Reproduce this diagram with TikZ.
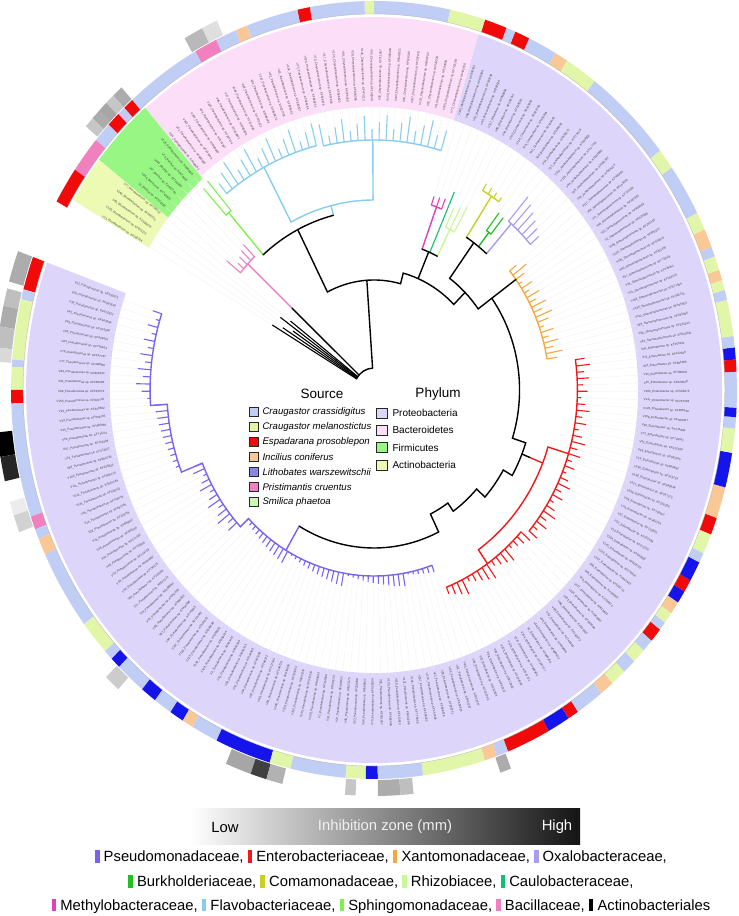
\documentclass[tikz,border=0pt]{standalone}
\usepackage{fontspec}
\setmainfont{Liberation Sans}
\usetikzlibrary{positioning}

% family colours
\definecolor{pseud}{RGB}{123,97,240}
\definecolor{entero}{RGB}{240,24,24}
\definecolor{xanto}{RGB}{245,168,64}
\definecolor{oxalo}{RGB}{168,156,240}
\definecolor{burk}{RGB}{32,192,32}
\definecolor{comam}{RGB}{200,208,40}
\definecolor{rhizo}{RGB}{200,248,152}
\definecolor{caulo}{RGB}{16,192,112}
\definecolor{methy}{RGB}{224,64,192}
\definecolor{flavo}{RGB}{136,204,240}
\definecolor{sphin}{RGB}{128,240,80}
\definecolor{bacil}{RGB}{240,128,192}
% source colours
\definecolor{ccra}{RGB}{192,206,246}
\definecolor{cmel}{RGB}{226,246,170}
\definecolor{espa}{RGB}{240,10,10}
\definecolor{inci}{RGB}{250,200,150}
\definecolor{lith}{RGB}{20,20,235}
\definecolor{lithleg}{RGB}{136,136,232}
\definecolor{pris}{RGB}{240,128,190}
\definecolor{smil}{RGB}{205,246,185}
% phylum colours
\definecolor{proteo}{RGB}{222,214,250}
\definecolor{bacte}{RGB}{252,222,248}
\definecolor{firmi}{RGB}{152,246,132}
\definecolor{actino}{RGB}{236,250,180}

\tikzset{
  branch/.style={line width=1.4pt, line cap=round},
  leaf/.style={line width=1.1pt},
  guide/.style={draw=gray!14, line width=0.25pt},
  tiplabel/.style={font=\fontsize{3}{3}\selectfont, text=black!75, inner sep=0pt},
  srcbox/.style={draw=black!85, line width=0.7pt, minimum size=9pt, inner sep=0pt},
  phybox/.style={draw=black!85, line width=0.7pt, minimum width=11pt, minimum height=10pt, inner sep=0pt},
  srctext/.style={font=\itshape\fontsize{9.6}{10}\selectfont, inner sep=0pt},
  phytext/.style={font=\fontsize{10}{11}\selectfont, inner sep=0pt},
  heading/.style={font=\fontsize{13.5}{14}\selectfont, inner sep=0pt},
  famline/.style={font=\fontsize{14.8}{16}\selectfont, inner sep=0pt},
  bartext/.style={font=\fontsize{14.8}{16}\selectfont, inner sep=0pt},
}

% annular sector: start, end, inner r, outer r, colour
\newcommand{\sect}[5]{\fill[#5] (#1:#3pt) arc[start angle=#1, end angle=#2, radius=#3pt]
  -- (#2:#4pt) arc[start angle=#2, end angle=#1, radius=#4pt] -- cycle;}
% tip label: angle, name, text
\newcommand{\tiplab}[3]{%
  \pgfmathsetmacro\rot{atan2(sin(#1),0.933*cos(#1))}%
  \pgfmathtruncatemacro\flip{cos(#1)<0 ? 1 : 0}%
  \ifnum\flip=1
    \node[tiplabel,anchor=east,rotate=\rot+180] (#2) at (#1:289pt) {#3};%
  \else
    \node[tiplabel,anchor=west,rotate=\rot] (#2) at (#1:289pt) {#3};%
  \fi}
% clade: start, end, leaves, colour, comb radius, genus, seed, base, spread
\newcommand{\clade}[9]{%
  \draw[branch,#4] (#1:#5pt) arc[start angle=#1, end angle=#2, radius=#5pt];
  \foreach \i in {1,...,#3}{%
    \pgfmathsetmacro\ang{#1+(\i-1)*(#2-#1)/max(#3-1,1)}%
    \pgfmathsetlengthmacro\tip{#5+#8+mod(\i*#7,#9)}%
    \draw[leaf,#4] (\ang:#5pt) -- (\ang:\tip);
    \draw[guide] (\ang:\tip) -- (\ang:287pt);
    \pgfmathtruncatemacro\ida{mod(\i*#7+#3,170)+1}%
    \pgfmathtruncatemacro\idb{mod(\i*331+#7*17,900)+100}%
    \pgfmathtruncatemacro\idc{mod(\i*173+#7*29,900)+100}%
    \tiplab{\ang}{tip#7-\i}{V\ida\_#6 sp. KF\idb\idc}
  }}
\newcommand{\chip}[1]{\textcolor{#1}{\rule[-1pt]{4.5pt}{12.5pt}}}

\begin{document}
\begin{tikzpicture}[x=1pt,y=1pt]
\useasboundingbox (0,0) rectangle (739,916);

\begin{scope}[shift={(374,526)}, xscale=0.933]
  % phylum background
  \sect{160}{432.5}{283}{373}{proteo}
  \sect{72.5}{131}{283}{373}{bacte}
  \sect{131}{142}{280}{374}{firmi}
  \sect{142}{149.5}{280}{374}{actino}

  % source ring
  \foreach \a/\b/\c in {160/165/espa, 165/166.5/ccra, 166.5/175.5/cmel, 175.5/176.6/ccra,
    176.6/180/cmel, 180/182/espa, 182/199/ccra, 199/201/pris, 201/202.5/ccra, 202.5/205/inci,
    205/217/ccra, 217/222.2/cmel, 222.2/223.7/ccra, 223.7/225.4/lith, 225.4/230.3/ccra,
    230.3/232.9/lith, 232.9/235.9/ccra, 235.9/238.2/lith, 238.2/240/inci, 240/244.3/ccra,
    244.3/253.3/lith, 253.3/256.7/cmel, 256.7/265.5/ccra, 265.5/268.7/cmel, 268.7/270.6/lith,
    270.6/277.8/ccra, 277.8/287.8/cmel, 287.8/289.8/inci, 289.8/291.7/ccra, 291.7/298.8/espa,
    298.8/302.4/lith, 302.4/304.2/espa, 304.2/308.8/ccra, 308.8/311.1/inci, 311.1/313.6/cmel,
    313.6/315.8/ccra, 315.8/318/cmel, 318/319.9/ccra, 319.9/322/espa, 322/323.3/ccra,
    323.3/325/cmel, 325/326.9/inci, 326.9/328.8/lith, 328.8/330.7/espa, 330.7/333.7/lith,
    333.7/335.2/ccra, 335.2/338.2/cmel, 338.2/340.8/espa, 340.8/345.5/inci, 345.5/350.7/lith,
    350.7/354.3/cmel, 354.3/356/ccra, 356/357.4/lith, 357.4/362.7/ccra, 362.7/364.5/espa,
    364.5/366.3/lith, 366.3/368/ccra, 368/373.4/cmel, 373.4/374.9/ccra, 374.9/376.4/cmel,
    376.4/378/inci, 378/380.1/cmel, 380.1/381.6/ccra, 381.6/384.4/inci, 384.4/387.1/cmel,
    387.1/394.9/ccra, 394.9/398/cmel, 398/412.6/ccra, 412.6/417.9/cmel, 417.9/420/inci,
    420/424.7/ccra, 424.7/427.1/espa, 427.1/428.6/ccra, 428.6/432.2/espa, 432.2/437.9/cmel,
    437.9/450/ccra, 450/451.5/cmel, 451.5/460.2/ccra, 460.2/462.2/espa, 462.2/470.5/ccra,
    470.5/472.4/inci, 472.4/475.8/ccra, 475.8/479.5/pris, 479.5/491.8/ccra, 491.8/493.5/espa,
    493.5/494.8/ccra, 494.8/497/espa, 497/500/ccra, 500/505.5/pris, 505.5/511/espa}
    {\sect{\a}{\b}{376}{389}{\c}}
  \draw[gray!60, line width=0.3pt] (160:376pt) arc[start angle=160, end angle=511, radius=376pt];

  % inhibition zone boxes
  \foreach \a/\b/\c in {114.5/117/gray!25, 117/120/gray!55, 131.8/133.5/gray!65,
    133.5/135/gray!45, 135/136.5/gray!70, 136.5/138/gray!65, 138/139.5/gray!45,
    160/164.5/gray!65, 165.5/168/gray!50, 168/171/gray!65, 171/174/gray!50, 174/176/gray!30,
    186/189.5/black, 189.5/193/black!85, 196/198/gray!15, 198/200.5/gray!35,
    225/227.5/gray!40, 247/251/gray!70, 251/253.5/black!75, 253.5/256/gray!60,
    265.6/267.2/gray!45, 270.6/274/gray!65, 274/276/gray!50, 289.5/291.2/gray!65}
    {\sect{\a}{\b}{390}{406}{\c}}

  % clades and tip labels
  \clade{161.5}{182}{13}{pseud}{240}{Pseudomonas}{7}{3}{13}
  \clade{183.7}{200}{11}{pseud}{222}{Pseudomonas}{11}{3}{12}
  \clade{201.7}{222}{13}{pseud}{198}{Pseudomonas}{5}{3}{14}
  \clade{223.7}{289.5}{41}{pseud}{186}{Pseudomonas}{13}{2}{12}
  \clade{291.5}{318}{17}{entero}{212}{Enterobacter}{17}{4}{14}
  \clade{319.7}{368}{30}{entero}{218}{Enterobacter}{19}{4}{12}
  \clade{369.5}{399.3}{19}{xanto}{188}{Stenotrophomonas}{23}{4}{16}
  \clade{401}{409.5}{6}{oxalo}{222}{Janthinobacterium}{29}{8}{25}
  \clade{411.2}{412.9}{2}{burk}{200}{Burkholderia}{31}{20}{5}
  \clade{414.6}{419.7}{4}{comam}{231}{Comamonas}{37}{4}{6}
  \clade{421.4}{424.8}{3}{rhizo}{180}{Rhizobium}{41}{18}{15}
  \clade{426.5}{426.5}{1}{caulo}{150}{Brevundimonas}{43}{66}{1}
  \clade{428.2}{431.6}{3}{methy}{195}{Methylobacterium}{47}{6}{6}
  \clade{433.3}{462.5}{18}{flavo}{250}{Chryseobacterium}{53}{8}{20}
  \clade{464.2}{488.8}{15}{flavo}{252}{Flavobacterium}{59}{8}{22}
  \clade{490.5}{492.2}{2}{sphin}{236}{Sphingomonas}{61}{34}{8}
  \clade{493.9}{500.7}{5}{bacil}{185}{Bacillus}{67}{6}{14}
  \clade{502.4}{509.2}{5}{black}{22}{Microbacterium}{71}{80}{30}

  % coloured stems
  \draw[branch,pseud] (182:240pt) arc[start angle=182, end angle=183.7, radius=240pt] -- (183.7:222pt);
  \draw[branch,pseud] (200:222pt) arc[start angle=200, end angle=201.7, radius=222pt] -- (201.7:198pt);
  \draw[branch,pseud] (222:198pt) arc[start angle=222, end angle=223.7, radius=198pt] -- (223.7:186pt);
  \draw[branch,pseud] (239.5:158pt) -- (239.5:186pt);
  \draw[branch,entero] (305:212pt) -- (305:195pt) arc[start angle=305, end angle=343, radius=195pt] -- (343:218pt);
  \draw[branch,entero] (338:180pt) -- (338:195pt);
  \draw[branch,oxalo] (48.5:182pt) -- (48.5:222pt);
  \draw[branch,burk] (52:182pt) -- (52:200pt);
  \draw[branch,comam] (57:182pt) -- (57:231pt);
  \draw[branch,rhizo] (63.1:150pt) -- (63.1:180pt);
  \draw[branch,methy] (69.9:150pt) -- (69.9:195pt);
  \draw[branch,flavo] (104:180pt) -- (104:190pt);
  \draw[branch,flavo] (90.3:250pt) -- (90.3:190pt) arc[start angle=90.3, end angle=117.9, radius=190pt] -- (117.9:252pt);
  \draw[branch,sphin] (131.3:180pt) -- (131.3:236pt);
  \draw[branch,bacil] (137:120pt) -- (137:185pt);

  % backbone
  \draw[branch] (94:22pt) arc[start angle=94, end angle=149.2, radius=22pt];
  \draw[branch] (137:22pt) -- (137:120pt);
  \draw[branch] (94:22pt) -- (94:110pt);
  \draw[branch] (117:180pt) -- (117:110pt) arc[start angle=117, end angle=75, radius=110pt]
    -- (75:121pt) arc[start angle=75, end angle=45, radius=121pt] -- (45:138pt);
  \draw[branch] (104:180pt) arc[start angle=104, end angle=131.3, radius=180pt];
  \draw[branch] (67:121pt) -- (67:150pt);
  \draw[branch] (63.1:150pt) arc[start angle=63.1, end angle=69.9, radius=150pt];
  \draw[branch] (54:182pt) -- (54:138pt) arc[start angle=54, end angle=36, radius=138pt] -- (36:156pt);
  \draw[branch] (48.5:182pt) arc[start angle=48.5, end angle=57, radius=182pt];
  \draw[branch] (36:188pt) -- (36:156pt) arc[start angle=36, end angle=-18, radius=156pt]
    -- (-18:171pt) arc[start angle=-18, end angle=-30, radius=171pt]
    -- (-30:160pt) arc[start angle=-30, end angle=-42, radius=160pt]
    -- (-42:148pt) arc[start angle=-42, end angle=-55, radius=148pt]
    -- (-55:138pt) arc[start angle=-55, end angle=-64, radius=138pt]
    -- (-64:158pt) arc[start angle=-64, end angle=-120.5, radius=158pt];
  \draw[branch] (-22:171pt) -- (-22:180pt);
\end{scope}

% legend in the centre
\node[heading] (srchead) at (322,522) {Source};
\node[heading] (phyhead) at (438,522) {Phylum};
\node[srcbox, fill=ccra] (s1) at (253.5,504) {};
\node[srcbox, fill=cmel, below=5.3pt of s1] (s2) {};
\node[srcbox, fill=espa, below=5.3pt of s2] (s3) {};
\node[srcbox, fill=inci, below=5.3pt of s3] (s4) {};
\node[srcbox, fill=lithleg, below=5.3pt of s4] (s5) {};
\node[srcbox, fill=pris, below=5.3pt of s5] (s6) {};
\node[srcbox, fill=smil, below=5.3pt of s6] (s7) {};
\node[srctext, right=4pt of s1] (st1) {Craugastor crassidigitus};
\node[srctext, right=4pt of s2] (st2) {Craugastor melanostictus};
\node[srctext, right=4pt of s3] (st3) {Espadarana prosoblepon};
\node[srctext, right=4pt of s4] (st4) {Incilius coniferus};
\node[srctext, right=4pt of s5] (st5) {Lithobates warszewitschii};
\node[srctext, right=4pt of s6] (st6) {Pristimantis cruentus};
\node[srctext, right=4pt of s7] (st7) {Smilica phaetoa};
\node[phybox, fill=proteo] (p1) at (381.5,503) {};
\node[phybox, fill=bacte, below=6.7pt of p1] (p2) {};
\node[phybox, fill=firmi, below=6.7pt of p2] (p3) {};
\node[phybox, fill=actino, below=6.7pt of p3] (p4) {};
\node[phytext, right=5pt of p1] (pt1) {Proteobacteria};
\node[phytext, right=5pt of p2] (pt2) {Bacteroidetes};
\node[phytext, right=5pt of p3] (pt3) {Firmicutes};
\node[phytext, right=5pt of p4] (pt4) {Actinobacteria};

% inhibition scale
\node[minimum width=390pt, minimum height=36pt, inner sep=0pt,
  left color=white, middle color=gray!55, right color=black!92] (bar) at (385,89) {};
\node[bartext, text=black] (low) at (225,89) {Low};
\node[bartext, text=white!88!gray] (zone) at (385,89) {Inhibition zone (mm)};
\node[bartext, text=white] (high) at (557,89) {High};

% family key
\node[famline] (fam1) at (381,59) {\chip{pseud} Pseudomonadaceae, \chip{entero} Enterobacteriaceae,
  \chip{xanto} Xantomonadaceae, \chip{oxalo} Oxalobacteraceae,};
\node[famline] (fam2) at (381,34) {\chip{burk} Burkholderiaceae, \chip{comam} Comamonadaceae,
  \chip{rhizo} Rhizobiacee, \chip{caulo} Caulobacteraceae,};
\node[famline] (fam3) at (381,10) {\chip{methy} Methylobacteraceae, \chip{flavo} Flavobacteriaceae,
  \chip{sphin} Sphingomonadaceae, \chip{bacil} Bacillaceae, \chip{black} Actinobacteriales};
\end{tikzpicture}
\end{document}
